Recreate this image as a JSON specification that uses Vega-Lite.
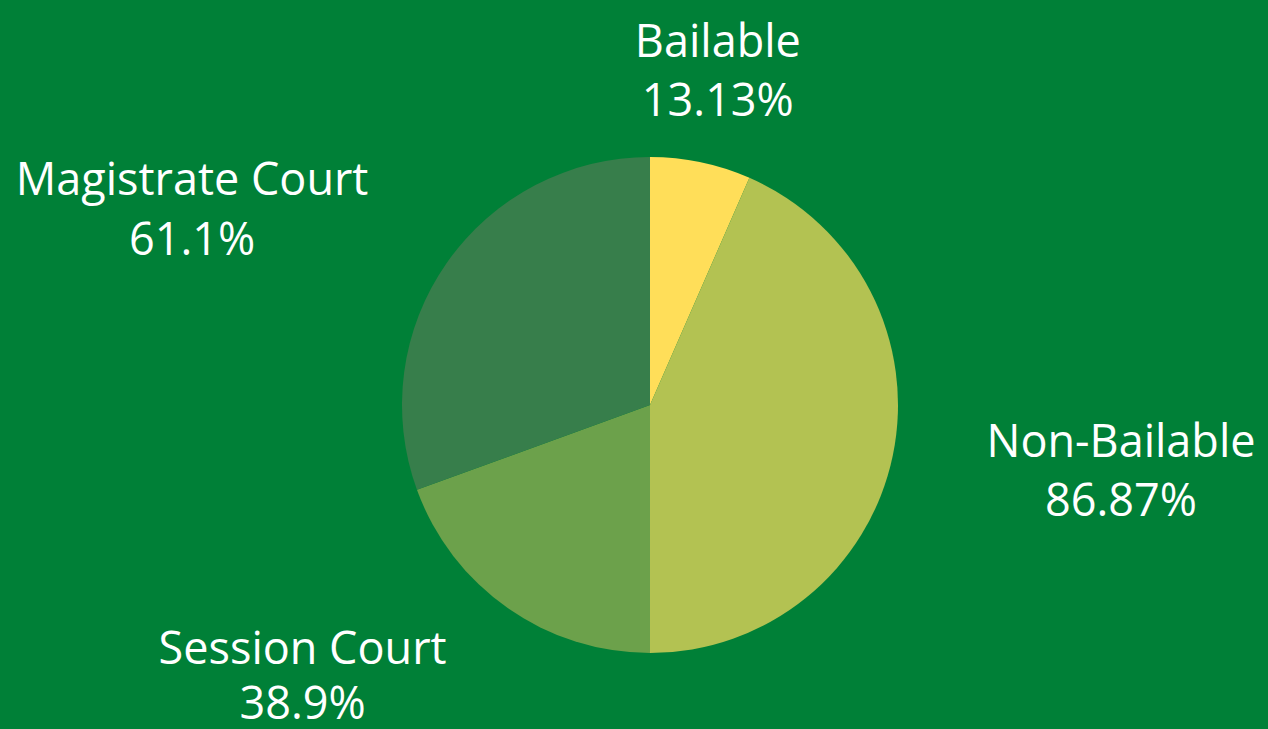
{
  "$schema": "https://vega.github.io/schema/vega-lite/v6.json",
  "width": 1236,
  "height": 648,
  "autosize": {"type": "none"},
  "padding": {"left": 32, "top": 81, "right": 0, "bottom": 0},
  "background": "#008037",
  "config": {"view": {"stroke": null}},
  "data": {
    "values": [
      {"label": "Bailable", "value": 13.13},
      {"label": "Non-Bailable", "value": 86.87},
      {"label": "Session Court", "value": 38.9},
      {"label": "Magistrate Court", "value": 61.1}
    ]
  },
  "transform": [
    {"calculate": "[datum.label, datum.value + '%']", "as": "lines"},
    {"window": [{"op": "row_number", "as": "ord"}]}
  ],
  "encoding": {
    "theta": {"field": "value", "type": "quantitative", "stack": true},
    "order": {"field": "ord", "type": "quantitative"}
  },
  "layer": [
    {
      "mark": {"type": "arc", "outerRadius": 248},
      "encoding": {
        "color": {
          "field": "label",
          "type": "nominal",
          "scale": {
            "domain": ["Bailable", "Non-Bailable", "Session Court", "Magistrate Court"],
            "range": ["#FFDE59", "#B3C252", "#6CA14B", "#377E4B"]
          },
          "legend": null
        }
      }
    },
    {
      "mark": {"type": "text", "radius": 341, "font": "Open Sans", "fontSize": 45, "fontWeight": 500, "color": "white", "lineHeight": 59, "align": "center", "baseline": "middle", "dx": -2, "dy": -28},
      "encoding": {"text": {"condition": {"test": "datum.label === 'Bailable'", "field": "lines"}, "value": ""}}
    },
    {
      "mark": {"type": "text", "radius": 470, "font": "Open Sans", "fontSize": 45, "fontWeight": 500, "color": "white", "lineHeight": 59, "align": "center", "baseline": "middle", "dx": 11, "dy": -58},
      "encoding": {"text": {"condition": {"test": "datum.label === 'Non-Bailable'", "field": "lines"}, "value": ""}}
    },
    {
      "mark": {"type": "text", "radius": 440, "font": "Open Sans", "fontSize": 45, "fontWeight": 500, "color": "white", "lineHeight": 55, "align": "center", "baseline": "middle", "dx": -95, "dy": -115},
      "encoding": {"text": {"condition": {"test": "datum.label === 'Session Court'", "field": "lines"}, "value": ""}}
    },
    {
      "mark": {"type": "text", "radius": 498, "font": "Open Sans", "fontSize": 45, "fontWeight": 500, "color": "white", "lineHeight": 60, "align": "center", "baseline": "middle", "dx": -50, "dy": 62},
      "encoding": {"text": {"condition": {"test": "datum.label === 'Magistrate Court'", "field": "lines"}, "value": ""}}
    }
  ]
}
